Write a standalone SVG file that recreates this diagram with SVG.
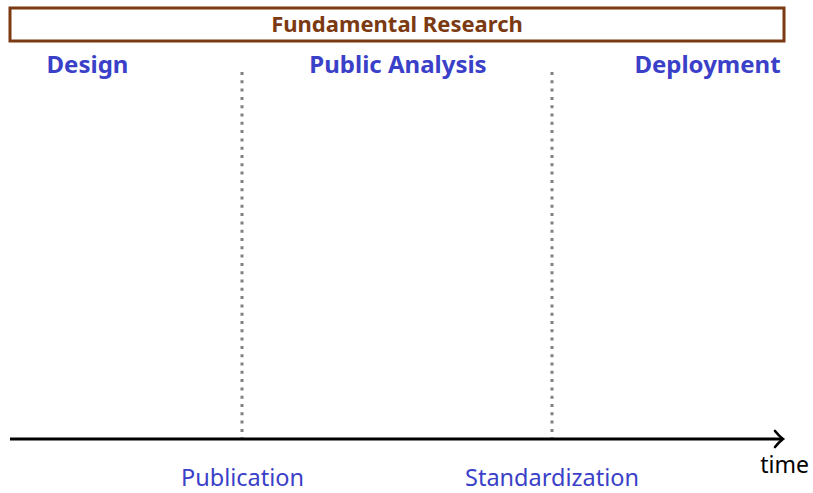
<svg xmlns="http://www.w3.org/2000/svg" width="813" height="493" viewBox="0 0 813 493">
<defs>
<style>
.head{font-family:"Noto Sans","Open Sans",sans-serif;font-weight:bold;font-size:24px;fill:#3a40c8;text-anchor:middle}
.ev{font-family:"Noto Sans","Open Sans",sans-serif;font-size:23.5px;fill:#3a40c8;text-anchor:middle}
.sep{stroke:#808080;stroke-width:3;stroke-dasharray:3 5.3;fill:none}
</style>
<marker id="arr" markerWidth="14" markerHeight="20" refX="11" refY="10" orient="auto" markerUnits="userSpaceOnUse">
<path d="M3,2 Q7,7 11,10 Q7,13 3,18" fill="none" stroke="#000" stroke-width="2.6" stroke-linecap="round"/>
</marker>
</defs>
<rect width="813" height="493" fill="#fff"/>
<g id="fundamental">
<rect x="10" y="8" width="774" height="33" fill="#fff" stroke="#7b3a12" stroke-width="3"/>
<text x="397" y="32" font-family="Noto Sans, Open Sans, sans-serif" font-weight="bold" font-size="22" fill="#7b3a12" text-anchor="middle">Fundamental Research</text>
</g>
<g id="design"><text class="head" x="87.5" y="73">Design</text></g>
<g id="public-analysis"><text class="head" x="398" y="73">Public Analysis</text></g>
<g id="deployment"><text class="head" x="707.5" y="73">Deployment</text></g>
<g id="connectors">
<line class="sep" x1="242" y1="72" x2="242" y2="438"/>
<line class="sep" x1="552" y1="72" x2="552" y2="438"/>
<line x1="10" y1="439" x2="783" y2="439" stroke="#000" stroke-width="3" marker-end="url(#arr)"/>
</g>
<g id="publication"><text class="ev" x="242.5" y="486">Publication</text></g>
<g id="standardization"><text class="ev" x="552" y="486">Standardization</text></g>
<g id="time"><text x="784.5" y="473" font-family="Noto Sans, Open Sans, sans-serif" font-size="23" fill="#000" text-anchor="middle">time</text></g>
</svg>
